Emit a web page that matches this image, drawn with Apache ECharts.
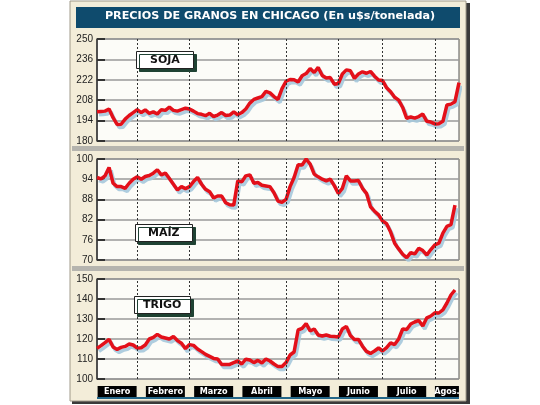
<!DOCTYPE html>
<html><head><meta charset="utf-8">
<script src="https://cdn.jsdelivr.net/npm/echarts@6/dist/echarts.min.js"></script>
<style>html,body{margin:0;padding:0;background:#fff}#c{width:540px;height:405px}</style>
</head><body><div id="c"></div>
<script>
// sample points (roughly every other trading day), January to early August
const samples = ['0','1','2','3','4','5','6','7','8','9','10','11','12','13','14','15','16','17','18','19','20','21','22','23','24','25','26','27','28','29','30','31','32','33','34','35','36','37','38','39','40','41','42','43','44','45','46','47','48','49','50','51','52','53','54','55','56','57','58','59','60','61','62','63','64','65','66','67','68','69','70','71','72','73','74','75','76','77','78','79','80','81','82','83','84','85','86','87','88','89','90'];
const months = ['Enero','Febrero','Marzo','Abril','Mayo','Junio','Julio','Agos.'];
const monthCenters = [5,17,29,41,53,65,77,87];
const monthBounds = [10,23,35,47,60,71,84];

const sojaTicks = [180,194,208,222,236,250];
const maizTicks = [70,76,82,88,94,100];
const trigoTicks = [100,110,120,130,140,150];

const soja = [200,200.3,200.5,202,196,191.4,191.5,195,197.5,199.5,201.5,199.5,201.3,199,200,198.5,201.5,201,203.2,201,200.5,201.5,202.5,202,200.5,198.8,198.3,197.4,199,196.8,197.8,199.5,197.5,197.8,200,198,199.5,202,206,208.5,209.5,210.5,214,213,210.5,208.5,216,221,222.2,222,220.5,224.8,226.3,229.7,227,230.5,225,223.2,223.5,219,219.5,226,228.8,228.2,223,226,227.5,226.5,227.7,224.5,221.9,221.5,216.5,213.8,210,208,203,195.6,196.5,195.7,196.8,198.5,193.5,193,191.7,191.9,193.5,204.7,205.3,207,220];
const maiz = [94.5,94.1,95,97.5,92.8,91.8,91.8,91.3,92.8,94,94.7,94,94.8,95.1,95.8,96.8,95.3,95.8,94.2,92.5,90.8,91.8,91.2,91.8,93.3,94.5,92.5,91,90.3,88.4,89,89,87,86.4,86.3,93.5,93.2,95,95.3,92.8,93,92.2,92,91.8,90,87.5,87.1,88,91.8,94.5,98.3,98.2,100,98.5,95.5,94.7,94,93.5,94,92.1,89.8,91.3,95,93.5,93.5,93.6,91.3,89.8,85.8,84.5,83.4,81.6,80.8,78.3,75,73.3,71.7,70.7,72.2,71.8,73.5,72.8,71.5,73.1,74.5,75,78,80,80.5,86.3,null];
const trigo = [115.3,116.7,118.2,119.8,116,114.8,115.8,116.3,117.5,117,115.5,115.6,117,120,120.8,122.3,121,120.5,120,121.2,119.2,117.9,115.2,117.2,116.8,115,113.7,112.3,111.3,110.3,110,107.2,107.3,107.3,108.2,109,107.5,109.9,109.5,108.2,109.3,108,110,109,107.5,106.2,106.2,108.2,112,113.5,124.5,125.3,127.7,124,125,122,121.5,122,121.4,121.2,121,125,126.3,121.7,119.8,119.8,116.4,113.8,112.8,114,115.5,114,115.7,118.1,117.2,120,125,124.7,127.5,128.5,129.3,126.5,130.6,131.5,133.1,133,134.6,138,142,144.5,null];

const panels = [
  {name:'SOJA', data:soja, ticks:sojaTicks, top:39, height:102, lx:136, ly:51, pad:[4,14,3,14]},
  {name:'MAÍZ', data:maiz, ticks:maizTicks, top:159, height:101, lx:135, ly:224, pad:[4,13,3,13]},
  {name:'TRIGO', data:trigo, ticks:trigoTicks, top:279, height:100, lx:134, ly:296, pad:[4,9,3,9]}
];

const FONT = '"DejaVu Sans", Verdana, sans-serif';
const NARROW = '"Liberation Sans Narrow", "DejaVu Sans Condensed", sans-serif';
const grids = [], xAxes = [], yAxes = [], series = [], titles = [];
titles.push({text:'PRECIOS DE GRANOS EN CHICAGO (En u$s/tonelada)', left:'center', top:11, padding:0,
  textStyle:{color:'#ffffff', fontSize:11.2, fontWeight:'bold', fontFamily:FONT}});

panels.forEach((p, k) => {
  grids.push({left:97, width:362, top:p.top, height:p.height, show:true, backgroundColor:'#fcfcf8', borderColor:'#555', borderWidth:1});
  const last = k === 2;
  const lab = {backgroundColor:'#000', color:'#fff', fontWeight:'bold', fontSize:9, fontFamily:NARROW, height:11, lineHeight:11, align:'center'};
  xAxes.push({
    type:'category', gridIndex:k, data:samples, boundaryGap:false,
    axisLine:{show:false}, axisTick:{show:false}, splitLine:{show:false},
    axisLabel:last ? {
      show:true,
      interval:(i)=>monthCenters.indexOf(i) >= 0,
      formatter:(v, i)=>{ const m = monthCenters.indexOf(i); return m === months.length-1 ? '{a|'+months[m]+'}' : '{m|'+months[m]+'}'; },
      margin:7,
      rich:{ m:Object.assign({width:39}, lab), a:Object.assign({width:24}, lab) }
    } : {show:false}
  });
  yAxes.push({
    type:'value', gridIndex:k, min:p.ticks[0], max:p.ticks[p.ticks.length-1],
    axisLine:{show:true, lineStyle:{color:'#333', width:1.5}},
    axisTick:{show:true, inside:true, length:8, customValues:p.ticks, lineStyle:{color:'#333', width:2}},
    axisLabel:{customValues:p.ticks, color:'#222', fontSize:10, margin:4, fontFamily:'"Liberation Sans", Arial, sans-serif'},
    splitLine:{show:true, lineStyle:{color:'#9a9a9a', width:1.5}}
  });
  series.push({
    type:'line', xAxisIndex:k, yAxisIndex:k, data:p.data, symbol:'none', connectNulls:false,
    lineStyle:{color:'#e3101a', width:3.5, shadowColor:'rgba(165,200,220,0.9)', shadowOffsetX:2, shadowOffsetY:3, shadowBlur:0},
    markLine:{silent:true, symbol:'none', label:{show:false}, animation:false,
      lineStyle:{color:'#333', width:1, type:[2,2], shadowBlur:0, shadowOffsetX:0, shadowOffsetY:0, shadowColor:'transparent'},
      data:monthBounds.map(b=>({xAxis:samples[b]}))},
    animation:false, z:3
  });
  titles.push({text:p.name, left:p.lx, top:p.ly, padding:p.pad, backgroundColor:'#fff', borderColor:'#222', borderWidth:1,
    shadowColor:'#1f4233', shadowOffsetX:3, shadowOffsetY:3, shadowBlur:0,
    textStyle:{color:'#111', fontSize:11, fontWeight:'bold', fontFamily:FONT}});
});

const chart = echarts.init(document.getElementById('c'), null, {renderer:'canvas'});
chart.setOption({
  animation:false,
  backgroundColor:'#ffffff',
  graphic:[
    {type:'rect', shape:{x:72, y:3, width:398, height:401}, style:{fill:'#3a3a3a'}, z:-10, silent:true},
    {type:'rect', shape:{x:70, y:1, width:396, height:400}, style:{fill:'#f3edd9', stroke:'#a09a8a', lineWidth:1}, z:-9, silent:true},
    {type:'rect', shape:{x:76, y:7, width:384, height:21}, style:{fill:'#0f4b6d'}, z:-8, silent:true},
    {type:'rect', shape:{x:72, y:146, width:392, height:5}, style:{fill:'#b5b4ae'}, z:-8, silent:true},
    {type:'rect', shape:{x:72, y:266, width:392, height:5}, style:{fill:'#b5b4ae'}, z:-8, silent:true},
    {type:'rect', shape:{x:97, y:397, width:362, height:2}, style:{fill:'#246688'}, z:-8, silent:true}
  ],
  title:titles, grid:grids, xAxis:xAxes, yAxis:yAxes, series:series
});
</script></body></html>
